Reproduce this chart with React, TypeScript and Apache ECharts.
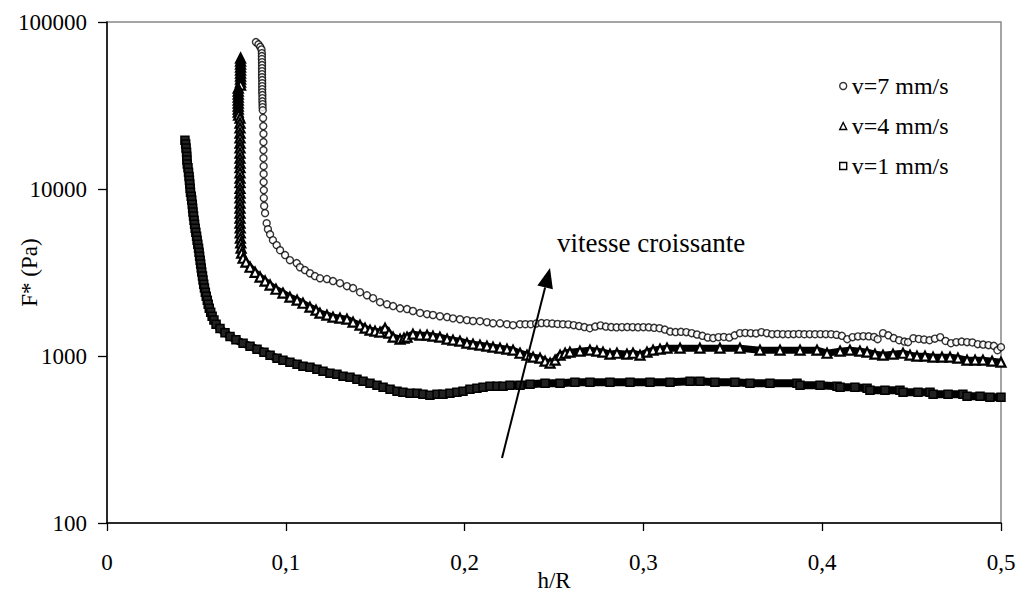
import React, { useEffect, useRef } from "react";
import * as echarts from "echarts";

const FONT = '"Liberation Serif", "Times New Roman", serif';

const seriesNames = ["v=7 mm/s", "v=4 mm/s", "v=1 mm/s"];
const yTicks = [100, 1000, 10000, 100000];
const annotation = "vitesse croissante";

// v = 7 mm/s : [h/R, F* (Pa)]
const v7: [number, number][] = [
  [0.0833, 75800], [0.0847, 73500], [0.0857, 71000], [0.0864, 68500], [0.0866, 65100],
  [0.0866, 62500], [0.0866, 60000], [0.0867, 57500], [0.0867, 55200], [0.0867, 52900],
  [0.0867, 50800], [0.0867, 48700], [0.0867, 46700], [0.0868, 44900], [0.0868, 43000],
  [0.0868, 41300], [0.0868, 39600], [0.0868, 38000], [0.0869, 36500], [0.0869, 35000],
  [0.0869, 33500], [0.087, 32200], [0.087, 30900], [0.0871, 29600], [0.0873, 26600],
  [0.0874, 23800], [0.0875, 21400], [0.0875, 19100], [0.0875, 17100], [0.0875, 15300],
  [0.0876, 13700], [0.0876, 12300], [0.0876, 11000], [0.0877, 9850], [0.0877, 8830],
  [0.0879, 7910], [0.0884, 7170], [0.0893, 6240], [0.09, 5740], [0.0912, 5350],
  [0.0928, 4940], [0.0949, 4610], [0.0968, 4300], [0.0996, 4020], [0.1023, 3750],
  [0.1061, 3600], [0.1079, 3400], [0.1107, 3270], [0.1135, 3130], [0.1163, 3010],
  [0.1191, 2920], [0.123, 2890], [0.1264, 2810], [0.1303, 2730], [0.1342, 2620],
  [0.1376, 2550], [0.1415, 2410], [0.1454, 2310], [0.1488, 2220], [0.1527, 2100],
  [0.1566, 2040], [0.16, 1990], [0.1639, 1930], [0.1678, 1910], [0.1711, 1860],
  [0.1751, 1810], [0.179, 1780], [0.1823, 1760], [0.1862, 1730], [0.1902, 1710],
  [0.1935, 1680], [0.1974, 1660], [0.2013, 1640], [0.2047, 1620], [0.2086, 1615],
  [0.2125, 1595], [0.2159, 1570], [0.2198, 1570], [0.2237, 1550], [0.2271, 1530],
  [0.231, 1550], [0.234, 1550], [0.237, 1550], [0.24, 1565], [0.243, 1575],
  [0.246, 1572], [0.249, 1565], [0.252, 1555], [0.255, 1550], [0.258, 1545],
  [0.261, 1530], [0.264, 1510], [0.267, 1490], [0.27, 1467], [0.273, 1500],
  [0.276, 1525], [0.279, 1500], [0.282, 1490], [0.285, 1485], [0.288, 1488],
  [0.291, 1490], [0.294, 1488], [0.297, 1485], [0.3, 1488], [0.303, 1485],
  [0.306, 1475], [0.309, 1467], [0.312, 1440], [0.315, 1400], [0.318, 1390],
  [0.321, 1395], [0.324, 1389], [0.327, 1370], [0.33, 1345], [0.333, 1320],
  [0.336, 1290], [0.339, 1280], [0.342, 1296], [0.345, 1300], [0.348, 1290],
  [0.351, 1330], [0.354, 1370], [0.357, 1375], [0.36, 1370], [0.363, 1365],
  [0.366, 1389], [0.369, 1370], [0.372, 1351], [0.375, 1355], [0.378, 1351],
  [0.381, 1350], [0.384, 1351], [0.387, 1355], [0.39, 1350], [0.393, 1351],
  [0.396, 1350], [0.399, 1352], [0.402, 1351], [0.405, 1350], [0.408, 1340],
  [0.411, 1320], [0.414, 1261], [0.417, 1296], [0.42, 1310], [0.423, 1314],
  [0.426, 1312], [0.429, 1300], [0.431, 1261], [0.434, 1370], [0.437, 1330],
  [0.44, 1280], [0.443, 1243], [0.446, 1220], [0.448, 1210], [0.451, 1278],
  [0.454, 1265], [0.457, 1255], [0.46, 1243], [0.463, 1270], [0.466, 1296],
  [0.469, 1230], [0.472, 1193], [0.475, 1210], [0.478, 1220], [0.481, 1210],
  [0.484, 1205], [0.487, 1177], [0.49, 1170], [0.493, 1161], [0.496, 1150],
  [0.498, 1083], [0.5, 1129],
];

// v = 4 mm/s
const v4: [number, number][] = [
  [0.0747, 60800], [0.0747, 58300], [0.0747, 56000], [0.0747, 53700], [0.0747, 51500],
  [0.0747, 49400], [0.0747, 47400], [0.0747, 45500], [0.0747, 43600], [0.0747, 41900],
  [0.0734, 40200], [0.0734, 38500], [0.0734, 37000], [0.0734, 35500], [0.0734, 34100],
  [0.0734, 32700], [0.0734, 31300], [0.0734, 30100], [0.0734, 28900], [0.0736, 27700],
  [0.0744, 26600], [0.0744, 24800], [0.0744, 23200], [0.0744, 21600], [0.0744, 20200],
  [0.0744, 18800], [0.0744, 17600], [0.0744, 16400], [0.0744, 15300], [0.0744, 14300],
  [0.0744, 13400], [0.0744, 12500], [0.0744, 11600], [0.0744, 10900], [0.0744, 10100],
  [0.0744, 9460], [0.0744, 8830], [0.0744, 8240], [0.0744, 7690], [0.0744, 7180],
  [0.0744, 6700], [0.0744, 6250], [0.0745, 5840], [0.0745, 5450], [0.0746, 5080],
  [0.0748, 4750], [0.075, 4430], [0.0753, 4130], [0.0761, 3850], [0.0777, 3650],
  [0.08, 3400], [0.0828, 3170], [0.0856, 2970], [0.0884, 2810], [0.0912, 2660],
  [0.0945, 2510], [0.0984, 2380], [0.1023, 2250], [0.1063, 2160], [0.1096, 2070],
  [0.1135, 1960], [0.1169, 1880], [0.1191, 1805], [0.123, 1756], [0.1264, 1708],
  [0.1303, 1684], [0.1342, 1661], [0.1376, 1594], [0.1415, 1529], [0.1443, 1467],
  [0.1471, 1428], [0.1499, 1408], [0.1527, 1389], [0.1555, 1467], [0.1577, 1370],
  [0.16, 1296], [0.1639, 1261], [0.1661, 1278], [0.1678, 1296], [0.1711, 1351],
  [0.1751, 1332], [0.179, 1332], [0.1823, 1314], [0.1862, 1296], [0.1902, 1261],
  [0.1935, 1243], [0.1974, 1227], [0.2013, 1193], [0.2047, 1177], [0.2086, 1161],
  [0.2125, 1145], [0.2159, 1129], [0.2198, 1114], [0.2237, 1098], [0.2271, 1083],
  [0.231, 1039], [0.2349, 1011], [0.2383, 984], [0.2422, 970], [0.245, 931],
  [0.2478, 906], [0.2506, 944], [0.2534, 1011], [0.2562, 1039], [0.2589, 1054],
  [0.2645, 1069], [0.2701, 1083], [0.274, 1069], [0.2774, 1054], [0.2813, 1025],
  [0.2852, 1039], [0.2908, 1025], [0.2942, 1039], [0.2981, 1011], [0.302, 1054],
  [0.3054, 1083], [0.3093, 1098], [0.3132, 1114], [0.3205, 1114], [0.3316, 1114],
  [0.3428, 1114], [0.354, 1114], [0.3652, 1083], [0.3764, 1083], [0.3876, 1083],
  [0.3971, 1083], [0.4027, 1039], [0.41, 1069], [0.4155, 1083], [0.4211, 1069],
  [0.4251, 1054], [0.4295, 1025], [0.434, 1011], [0.4396, 1025], [0.4452, 1039],
  [0.4491, 1011], [0.453, 997], [0.4575, 997], [0.462, 984], [0.467, 984],
  [0.4715, 984], [0.4759, 970], [0.481, 944], [0.4855, 944], [0.4899, 944],
  [0.495, 931], [0.5, 918],
];

// v = 1 mm/s
const v1: [number, number][] = [
  [0.0436, 19600], [0.044, 18600], [0.0442, 17600], [0.0445, 16600], [0.0446, 15700],
  [0.0447, 14900], [0.0449, 14100], [0.0453, 13400], [0.0456, 12600], [0.0459, 11900],
  [0.0461, 11300], [0.0463, 10700], [0.0465, 10100], [0.0467, 9570], [0.0471, 9050],
  [0.0474, 8580], [0.0477, 8110], [0.0479, 7680], [0.0481, 7270], [0.0484, 6880],
  [0.0487, 6510], [0.049, 6160], [0.0493, 5830], [0.0497, 5510], [0.0501, 5220],
  [0.0504, 4940], [0.0508, 4670], [0.0512, 4420], [0.0515, 4180], [0.0518, 3960],
  [0.0521, 3750], [0.0524, 3550], [0.0527, 3360], [0.053, 3180], [0.0534, 3010],
  [0.0537, 2850], [0.0541, 2690], [0.0545, 2550], [0.055, 2410], [0.0555, 2280],
  [0.0561, 2160], [0.0566, 2040], [0.0572, 1930], [0.058, 1830], [0.0588, 1730],
  [0.0598, 1640], [0.061, 1550], [0.0632, 1460], [0.066, 1380], [0.0688, 1310],
  [0.0721, 1250], [0.0761, 1193], [0.08, 1145], [0.0839, 1098], [0.0878, 1054],
  [0.0912, 1011], [0.0951, 970], [0.0984, 944], [0.1023, 918], [0.1063, 894],
  [0.1096, 869], [0.1135, 857], [0.1174, 834], [0.1208, 811], [0.1247, 789],
  [0.1286, 778], [0.132, 757], [0.1359, 746], [0.1398, 725], [0.1432, 706],
  [0.1471, 687], [0.151, 668], [0.1544, 650], [0.1583, 633], [0.1622, 615],
  [0.1655, 607], [0.1695, 599], [0.1734, 599], [0.1767, 590], [0.1806, 582],
  [0.1846, 590], [0.1879, 590], [0.1918, 599], [0.1957, 607], [0.1991, 615],
  [0.203, 633], [0.2069, 641], [0.2103, 650], [0.2142, 659], [0.2181, 659],
  [0.2215, 659], [0.2254, 668], [0.231, 668], [0.2366, 677], [0.245, 687],
  [0.2534, 687], [0.2617, 697], [0.2701, 697], [0.2813, 697], [0.2925, 697],
  [0.3037, 697], [0.3149, 697], [0.3261, 707], [0.3316, 707], [0.34, 697],
  [0.3512, 697], [0.3596, 687], [0.3708, 687], [0.3859, 687], [0.3876, 668],
  [0.3988, 668], [0.4083, 659], [0.41, 650], [0.4183, 650], [0.4251, 641],
  [0.4267, 624], [0.4351, 624], [0.4435, 624], [0.4452, 607], [0.4536, 607],
  [0.4603, 607], [0.462, 590], [0.4704, 590], [0.4787, 590], [0.481, 575],
  [0.4883, 575], [0.4938, 567], [0.5, 567],
];

export default function App() {
  const ref = useRef<HTMLDivElement>(null);

  useEffect(() => {
    if (!ref.current) return;
    const chart = echarts.init(ref.current, undefined, { renderer: "svg" });

    const openMarker = { color: "#fff", borderColor: "#000", borderWidth: 1.4 };

    // arrow geometry (annotation)
    const tail = [502, 458];
    const tip = [550, 268];
    const dx = tip[0] - tail[0];
    const dy = tip[1] - tail[1];
    const len = Math.sqrt(dx * dx + dy * dy);
    const ux = dx / len, uy = dy / len;
    const headLen = 20, headHalf = 8;
    const bx = tip[0] - ux * headLen, by = tip[1] - uy * headLen;
    const px = -uy, py = ux;

    chart.setOption({
      animation: false,
      backgroundColor: "#fff",
      textStyle: { fontFamily: FONT, color: "#000" },
      grid: {
        left: 107, top: 22, width: 894, height: 501,
        containLabel: false, outerBoundsMode: "none",
        show: true, borderColor: "#888", borderWidth: 1.5, backgroundColor: "transparent",
      },
      xAxis: {
        type: "value", min: 0, max: 0.5, interval: 0.1,
        name: "h/R", nameLocation: "middle", nameGap: 46, nameMoveOverlap: false,
        nameTextStyle: { fontSize: 23, fontFamily: FONT, color: "#000" },
        axisLine: { show: true, lineStyle: { color: "#000", width: 1.5 } },
        axisTick: { show: true, length: 8, lineStyle: { color: "#000", width: 1.3 } },
        axisLabel: {
          fontSize: 23, fontFamily: FONT, color: "#000", margin: 28,
          formatter: (v: number) => (v === 0 ? "0" : v.toFixed(1).replace(".", ",")),
        },
        splitLine: { show: false },
      },
      yAxis: {
        type: "log", logBase: 10, min: yTicks[0], max: yTicks[yTicks.length - 1],
        name: "F* (Pa)", nameLocation: "middle", nameGap: 66, nameRotate: 90,
        nameMoveOverlap: false,
        nameTextStyle: { fontSize: 23, fontFamily: FONT, color: "#000" },
        axisLine: { show: true, lineStyle: { color: "#000", width: 1.5 } },
        axisTick: { show: true, length: 9, lineStyle: { color: "#000", width: 1.3 } },
        axisLabel: {
          fontSize: 23, fontFamily: FONT, color: "#000", margin: 20,
          formatter: (v: number) => String(Math.round(v)),
        },
        splitLine: { show: false },
        minorTick: { show: false },
      },
      legend: {
        orient: "vertical", left: 834, top: 69, itemWidth: 7, itemHeight: 7, itemGap: 16,
        selectedMode: false,
        textStyle: { fontSize: 24, fontFamily: FONT, color: "#000" },
        data: [
          { name: seriesNames[0], icon: "circle", itemStyle: openMarker },
          { name: seriesNames[1], icon: "triangle", itemStyle: openMarker },
          { name: seriesNames[2], icon: "rect", itemStyle: openMarker },
        ],
      },
      series: [
        {
          name: seriesNames[2], type: "line", data: v1, symbol: "rect", symbolSize: 8,
          showSymbol: true, showAllSymbol: true,
          lineStyle: { color: "#000", width: 8 },
          itemStyle: { color: "#222", borderColor: "#000", borderWidth: 1.5 }, z: 2,
        },
        {
          name: seriesNames[1], type: "line", data: v4, symbol: "triangle", symbolSize: 9,
          showSymbol: true, showAllSymbol: true,
          lineStyle: { color: "#000", width: 7 },
          itemStyle: { color: "#fff", borderColor: "#000", borderWidth: 2.2 }, z: 3,
        },
        {
          name: seriesNames[0], type: "scatter", data: v7, symbol: "circle", symbolSize: 7,
          itemStyle: openMarker, z: 4,
        },
      ],
      graphic: [
        {
          type: "line", z: 10,
          shape: { x1: tail[0], y1: tail[1], x2: bx, y2: by },
          style: { stroke: "#000", lineWidth: 2 },
        },
        {
          type: "polygon", z: 10,
          shape: {
            points: [
              [tip[0], tip[1]],
              [bx + px * headHalf, by + py * headHalf],
              [bx - px * headHalf, by - py * headHalf],
            ],
          },
          style: { fill: "#000" },
        },
        {
          type: "text", left: 557, top: 229, z: 10,
          style: { text: annotation, fontSize: 27, fontFamily: FONT, fill: "#000" },
        },
      ],
    });

    return () => chart.dispose();
  }, []);

  return (
    <div
      ref={ref}
      style={{ position: "absolute", left: 0, top: 0, width: 1018, height: 605 }}
    />
  );
}
